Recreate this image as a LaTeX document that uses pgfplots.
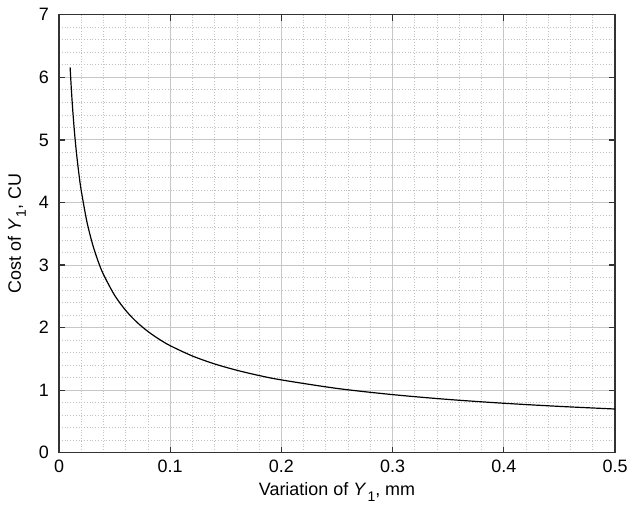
\documentclass[border=0pt]{standalone}
\usepackage{fontspec}
\setmainfont{Liberation Sans}
\usepackage{pgfplots}
\pgfplotsset{compat=1.18}

\newcommand{\Yone}{\textit{Y}\kern0.6pt\raisebox{-0.55ex}{\fontsize{7}{8}\selectfont 1}}

\begin{document}
\begin{tikzpicture}
\begin{axis}[
  scale only axis,
  width=278bp,
  height=219bp,
  xmin=0, xmax=0.5,
  ymin=0, ymax=7,
  xtick={0,0.1,0.2,0.3,0.4,0.5},
  ytick={0,1,2,3,4,5,6,7},
  xticklabels={0,0.1,0.2,0.3,0.4,0.5},
  minor x tick num=4,
  minor y tick num=4,
  tick align=inside,
  major tick length=3bp,
  minor tick length=0pt,
  grid=both,
  major grid style={draw=black!22, line width=0.5pt},
  minor grid style={draw=black!24, line width=0.4pt, densely dotted},
  axis line style={draw=black!80, line width=0.6pt},
  tick style={draw=black!80, line width=0.6pt},
  /pgf/number format/assume math mode=true,
  tick label style={font=\fontsize{9}{10}\selectfont},
  yticklabel style={xshift=-1.5bp},
  label style={font=\fontsize{9}{10}\selectfont},
  xlabel={Variation of \Yone, mm},
  ylabel={Cost of \Yone, CU},
  xlabel style={at={(axis description cs:0.5,0)}, anchor=north, yshift=-11.5bp},
  ylabel style={at={(axis description cs:0,0.5)}, anchor=south, yshift=13bp},
]
\addplot[black, line width=0.6pt, smooth, no markers] coordinates {
  (0.010,6.161) (0.011,5.843) (0.012,5.567) (0.013,5.324) (0.014,5.109)
  (0.015,4.917) (0.016,4.744) (0.018,4.443) (0.020,4.190) (0.025,3.701)
  (0.030,3.345) (0.035,3.070) (0.040,2.850) (0.050,2.518) (0.060,2.275)
  (0.070,2.088) (0.080,1.939) (0.090,1.816) (0.100,1.712) (0.120,1.547)
  (0.140,1.420) (0.160,1.319) (0.180,1.235) (0.200,1.165) (0.250,1.029)
  (0.300,0.930) (0.350,0.853) (0.400,0.792) (0.450,0.742) (0.500,0.700)
};
\end{axis}
\pgfresetboundingbox
\path ([shift={(-29.5bp,-28bp)}]current axis.south west) rectangle ([shift={(8.5bp,7.4bp)}]current axis.north east);
\end{tikzpicture}
\end{document}
